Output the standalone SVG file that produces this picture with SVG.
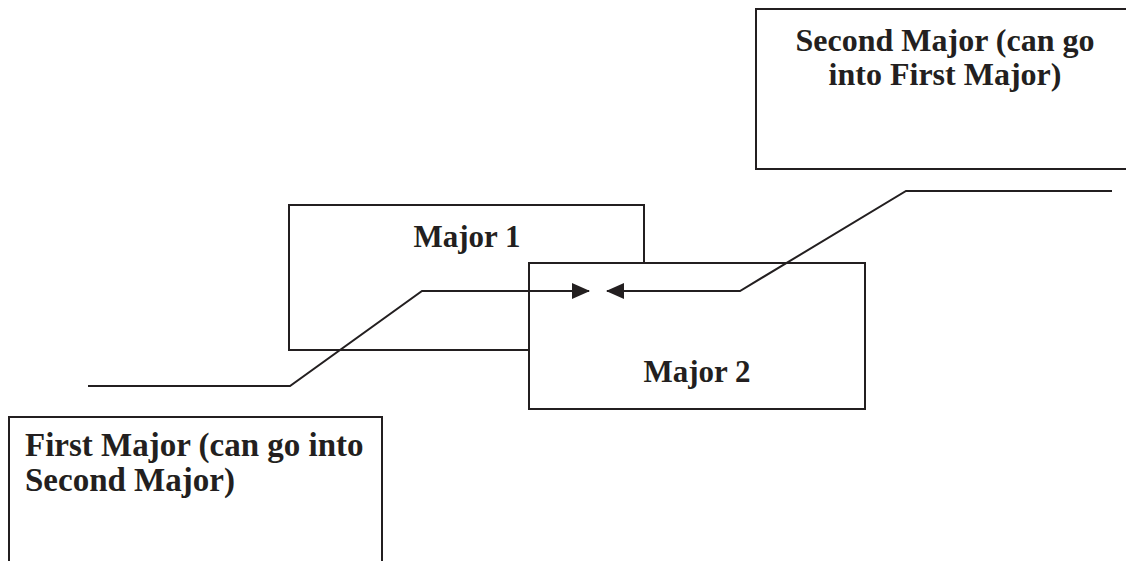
<svg xmlns="http://www.w3.org/2000/svg" width="1126" height="561" viewBox="0 0 1126 561">
  <style>
    .box { fill: #ffffff; stroke: #231f20; stroke-width: 2; }
    .label { font-family: "Liberation Serif", "Times New Roman", serif; font-weight: bold; font-size: 31px; fill: #231f20; }
    .big { font-size: 32px; }
    .bigger { font-size: 33px; }
    .wire { fill: none; stroke: #231f20; stroke-width: 2; }
  </style>
  <defs>
    <marker id="head" viewBox="0 0 18 16" refX="17" refY="8" markerWidth="18" markerHeight="16" markerUnits="userSpaceOnUse" orient="auto">
      <path d="M0,0 L18,8 L0,16 Z" fill="#231f20"/>
    </marker>
  </defs>
  <rect width="1126" height="561" fill="#ffffff"/>

  <g id="second-major">
    <rect class="box" x="756" y="9" width="380" height="160"/>
    <text class="label big" x="945" y="51" text-anchor="middle">Second Major (can go</text>
    <text class="label big" x="945" y="85" text-anchor="middle">into First Major)</text>
  </g>

  <g id="major-1">
    <rect class="box" x="289" y="205" width="355" height="145"/>
    <text class="label" x="467" y="247" text-anchor="middle">Major 1</text>
  </g>

  <g id="major-2">
    <rect class="box" x="529" y="263" width="336" height="146"/>
    <text class="label" x="697" y="382" text-anchor="middle">Major 2</text>
  </g>

  <g id="first-major">
    <rect class="box" x="9" y="417" width="373" height="160"/>
    <text class="label bigger" x="25" y="456">First Major (can go into</text>
    <text class="label bigger" x="25" y="491">Second Major)</text>
  </g>

  <g id="connectors">
    <path class="wire" d="M88,386 L290,386 L422,291 L589,291" marker-end="url(#head)"/>
    <path class="wire" d="M1112,191 L906,191 L740,291 L607,291" marker-end="url(#head)"/>
  </g>
</svg>
